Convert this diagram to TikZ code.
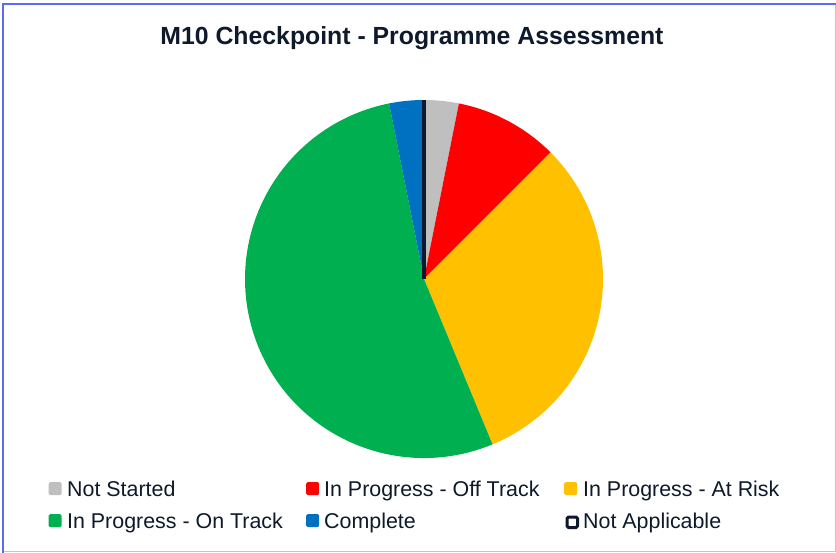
\documentclass[tikz,border=0pt]{standalone}
\usepackage{fontspec}
\setmainfont{Liberation Sans}
\begin{document}
\begin{tikzpicture}[x=1pt,y=-1pt,
  txt/.style={inner sep=0pt,anchor=base west,text=ink,font=\fontsize{21.4}{24}\selectfont},
  swatch/.style={minimum width=13pt,minimum height=13pt,inner sep=0pt,rounded corners=1.5pt,anchor=north west}]
\definecolor{ink}{HTML}{0E1A2B}
\definecolor{frameA}{HTML}{5A6BFA}
\definecolor{frameB}{HTML}{B8C0F8}
\definecolor{cGray}{HTML}{BFBFBF}
\definecolor{cRed}{HTML}{FF0000}
\definecolor{cYel}{HTML}{FFC000}
\definecolor{cGreen}{HTML}{00B050}
\definecolor{cBlue}{HTML}{0070C0}
\useasboundingbox (0,0) rectangle (836,553);
\fill[white] (0,0) rectangle (836,553);
% frame
\draw[frameB,line width=1pt] (835.5,4) -- (835.5,551.5) -- (3,551.5);
\draw[frameA,line width=2pt] (3,553) -- (3,4) -- (836,4);
% title
\node[inner sep=0pt,anchor=base,text=ink,font=\bfseries\fontsize{24.8}{28}\selectfont] (title) at (412,45) {M10 Checkpoint - Programme Assessment};
% pie (y axis flipped, so angles are negated)
\coordinate (c) at (424,279);
\def\R{179}
\fill[cGray]  (c) -- +(-90:\R) arc[start angle=-90,end angle=-78.75,radius=\R] -- cycle;
\fill[cRed]   (c) -- +(-78.75:\R) arc[start angle=-78.75,end angle=-45,radius=\R] -- cycle;
\fill[cYel]   (c) -- +(-45:\R) arc[start angle=-45,end angle=67.5,radius=\R] -- cycle;
\fill[cGreen] (c) -- +(67.5:\R) arc[start angle=67.5,end angle=258.75,radius=\R] -- cycle;
\fill[cBlue]  (c) -- +(258.75:\R) arc[start angle=258.75,end angle=270,radius=\R] -- cycle;
\coordinate (top) at (424,100);
\draw[ink,line width=3.5pt] (c) -- (top);
% legend
\node[swatch,fill=cGray] (s1) at (48.5,482) {};
\node[txt] (l1) at (67,496) {Not Started};
\node[swatch,fill=cRed] (s2) at (306,482) {};
\node[txt] (l2) at (324,496) {In Progress - Off Track};
\node[swatch,fill=cYel] (s3) at (564,482) {};
\node[txt] (l3) at (583,496) {In Progress - At Risk};
\node[swatch,fill=cGreen] (s4) at (48.5,514) {};
\node[txt] (l4) at (67,528) {In Progress - On Track};
\node[swatch,fill=cBlue] (s5) at (306,514) {};
\node[txt] (l5) at (324,528) {Complete};
\node[swatch,fill=white,draw=ink,line width=3pt,minimum width=10.5pt,minimum height=10.5pt] (s6) at (565.5,515.5) {};
\node[txt] (l6) at (583,528) {Not Applicable};
\end{tikzpicture}
\end{document}
